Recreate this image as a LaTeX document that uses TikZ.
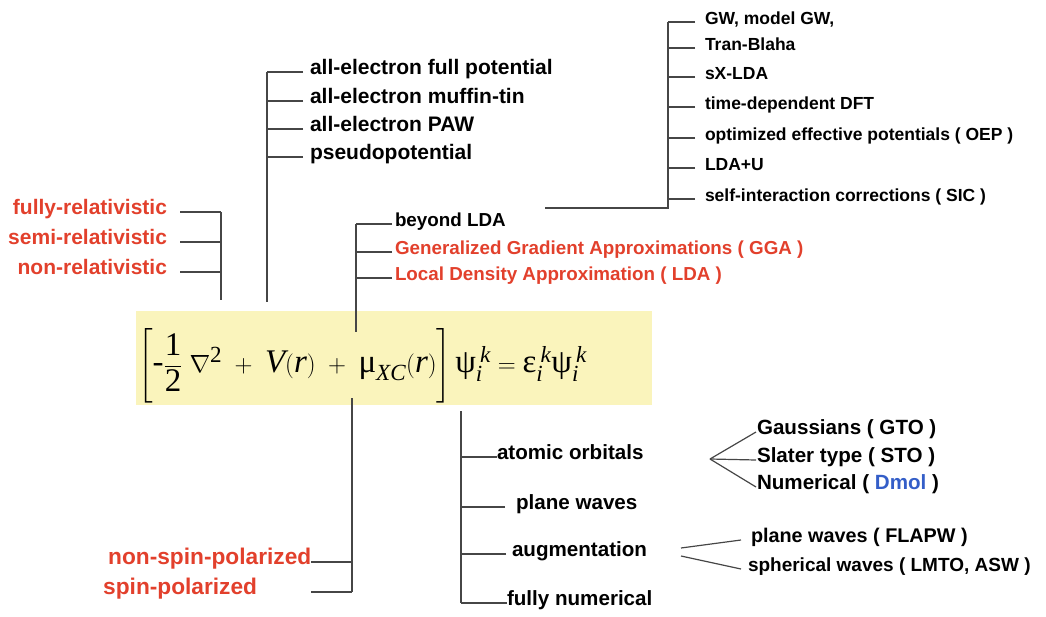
\documentclass[tikz,border=0pt]{standalone}
\usepackage{amsmath}
\usepackage[no-math]{fontspec}
\setmainfont{Liberation Sans}
\newfontfamily\eqfont{Liberation Serif}
\usetikzlibrary{positioning}

\definecolor{eqback}{RGB}{250,244,188}
\definecolor{labred}{RGB}{226,64,44}
\definecolor{labblue}{RGB}{52,94,200}
\definecolor{linegray}{RGB}{70,70,70}

\newcommand{\ev}[1]{\text{\itshape #1}}

\begin{document}
\begin{tikzpicture}[x=1pt,y=-1pt,
		branch/.style={draw=linegray,line width=1.2pt},
		lab/.style={inner sep=0pt,font=\bfseries\fontsize{#1}{#1}\selectfont},
		labl/.style={lab=#1,anchor=mid west},
		labr/.style={lab=#1,anchor=mid east}]
	\useasboundingbox (0,0) rectangle (1046,616);

	% Kohn-Sham equation
	\node (ks) [fill=eqback,inner sep=0pt,minimum width=516pt,minimum height=94pt,anchor=north west] at (136,311) {};
	\node (eq) [right=2pt of ks.west,yshift=-8pt,inner sep=0pt,font=\eqfont\fontsize{33}{40}\selectfont]
		{$\displaystyle\left[\text{-}\frac{\text{1}}{\text{2}}\;\nabla^{\text{2}}\;+\;\ev{V}(\ev{r})\;+\;\text{μ}_{\ev{XC}}(\ev{r})\right]\text{ψ}_{\ev{i}}^{\,\ev{k}}=\text{ε}_{\ev{i}}^{\,\ev{k}}\text{ψ}_{\ev{i}}^{\,\ev{k}}$};

	% relativistic treatment
	\coordinate (rel) at (221,300);
	\foreach \name/\txt/\y in {frel/fully-relativistic/212,srel/semi-relativistic/242,nrel/non-relativistic/272}{
		\node (\name) [labr=21,text=labred,outer xsep=13pt] at (180,\y) {\txt};
		\draw [branch] (\name.mid east) -- (\name.mid east -| rel);
	}
	\draw [branch] (frel.mid east -| rel) -- (rel);

	% potential
	\coordinate (pot) at (267,302);
	\foreach \name/\txt/\y in {fp/all-electron full potential/72,mt/all-electron muffin-tin/101,paw/all-electron PAW/129,pp/pseudopotential/157}{
		\node (\name) [labl=21,outer xsep=7pt] at (303,\y) {\txt};
		\draw [branch] (\name.mid west) -- (\name.mid west -| pot);
	}
	\draw [branch] (fp.mid west -| pot) -- (pot);

	% exchange-correlation
	\coordinate (xc) at (356,332);
	\foreach \name/\txt/\col/\y in {blda/beyond LDA/black/224,gga/Generalized Gradient Approximations ( GGA )/labred/252,lda/Local Density Approximation ( LDA )/labred/278}{
		\node (\name) [labl=18.8,text=\col,outer xsep=3pt] at (392,\y) {\txt};
		\draw [branch] (\name.mid west) -- (\name.mid west -| xc);
	}
	\draw [branch] (blda.mid west -| xc) -- (xc);

	\coordinate (bl) at (668,208);
	\coordinate (blend) at (545,208);
	\foreach \name/\txt/\y in {gw/{GW, model GW,}/22,tb/Tran-Blaha/48,sx/sX-LDA/77,td/time-dependent DFT/107,oep/optimized effective potentials ( OEP )/138,ldau/LDA+U/168,sic/self-interaction corrections ( SIC )/199}{
		\node (\name) [labl=17.5,outer xsep=10pt] at (695,\y) {\txt};
		\draw [branch] (\name.mid west) -- (\name.mid west -| bl);
	}
	\draw [branch] (gw.mid west -| bl) -- (bl) -- (blend);

	% spin
	\coordinate (spin) at (352,398);
	\node (nsp) [labl=22.7,text=labred] at (108,562) {non-spin-polarized};
	\node (sp) [labl=22.7,text=labred] at (103,592) {spin-polarized};
	\draw [branch] (nsp.mid east) -- (nsp.mid east -| spin);
	\draw [branch] (nsp.mid east |- sp.mid east) -- (sp.mid east -| spin);
	\draw [branch] (spin) -- (sp.mid east -| spin);

	% basis set
	\coordinate (bas) at (461,411);
	\foreach \name/\txt/\y/\xe/\gap in {ao/atomic orbitals/457/497/0pt,pwv/plane waves/507/505/11pt,aug/augmentation/554/506/6pt,fn/fully numerical/603/507/0pt}{
		\node (\name) [labl=20.6,outer xsep=\gap] at (\xe,\y) {\txt};
		\draw [branch] (\name.mid west) -- (\name.mid west -| bas);
	}
	\draw [branch] (bas) -- (fn.mid west -| bas);

	\coordinate (aof) at (710,459);
	\foreach \name/\txt/\y in {gto/{Gaussians ( GTO )}/432,sto/{Slater type ( STO )}/460,dmol/{Numerical ( \textcolor{labblue}{Dmol} )}/487}{
		\node (\name) [labl=20.6,outer xsep=1pt] at (756,\y) {\txt};
		\draw [branch] (aof) -- (\name.mid west);
	}

	\coordinate (augf1) at (681,548);
	\coordinate (augf2) at (681,556);
	\node (flapw) [labl=19.8,outer xsep=10pt] at (741,540) {plane waves ( FLAPW )};
	\node (sph) [labl=19,outer xsep=7pt] at (741,569) {spherical waves ( LMTO, ASW )};
	\draw [branch] (augf1) -- (flapw.mid west);
	\draw [branch] (augf2) -- (sph.mid west);
\end{tikzpicture}
\end{document}
